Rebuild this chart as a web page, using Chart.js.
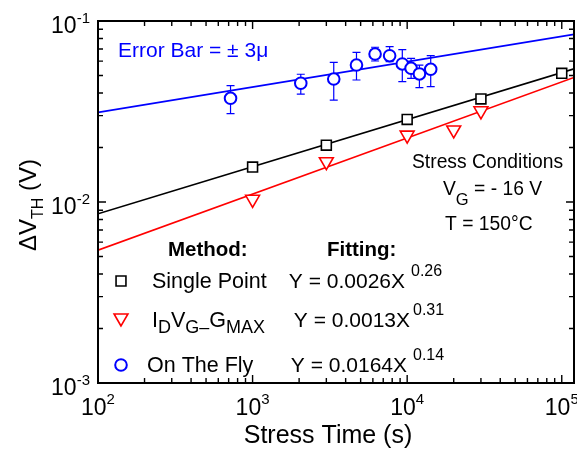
<!DOCTYPE html>
<html>
<head>
<meta charset="utf-8">
<script src="https://cdn.jsdelivr.net/npm/chart.js@4.4.0/dist/chart.umd.min.js"></script>
<style>
  html, body { margin: 0; padding: 0; background: #fff; }
  #wrap { width: 577px; height: 449px; position: relative; }
</style>
</head>
<body>
<div id="wrap"><canvas id="chart"></canvas></div>
<script>
// --- Data ---
// Single point method
const spTime = [1000, 3000, 10000, 30000, 100000];
const spShift = [0.0156, 0.0206, 0.0286, 0.0371, 0.0514];

// I_D V_G - G_MAX method
const gmTime = [1000, 3000, 10000, 20000, 30000];
const gmShift = [0.01035, 0.0167, 0.0234, 0.0250, 0.0319];

// On-the-fly method (mean with +/- 3 sigma limits)
const otfTime = [720, 2050, 3350, 4700, 6200, 7700, 9300, 10600, 12000, 14200];
const otfShift = [0.0374, 0.0453, 0.0478, 0.0571, 0.0657, 0.0643, 0.0579, 0.0548, 0.0510, 0.0541];
const otfHigh = [0.0439, 0.0508, 0.0591, 0.0671, 0.0716, 0.0721, 0.0694, 0.0622, 0.0571, 0.0643];
const otfLow = [0.0308, 0.0394, 0.0365, 0.0472, 0.0601, 0.0596, 0.0462, 0.0482, 0.0428, 0.0434];

// Power-law fits Y = A * X^n  (single point, IdVg-Gmax, on the fly)
const fitA = [0.0026, 0.0013, 0.0164];
const fitN = [0.26, 0.31, 0.14];
const fitLabels = ['0.0026', '0.0013', '0.0164'];
const fitExpLabels = ['0.26', '0.31', '0.14'];
const fitRange = [100, 120000];

// Axis decades
const xDecades = [100, 1000, 10000, 100000];
const yDecades = [0.001, 0.01, 0.1];

const FONT = '"Liberation Sans", Arial, Helvetica, sans-serif';
const BLUE = '#0000ff';
const RED = '#ff0000';
const BLACK = '#000000';

function xy(xs, ys) {
    return xs.map((x, i) => ({ x: x, y: ys[i] }));
}

function fitLine(k) {
    return fitRange.map(x => ({ x: x, y: fitA[k] * Math.pow(x, fitN[k]) }));
}

// draw a row of text pieces (sub/superscripts use dy)
function drawRuns(ctx, x, y, runs) {
    let cx = x;
    for (const r of runs) {
        ctx.font = (r.bold ? 'bold ' : '') + r.size + 'px ' + FONT;
        ctx.fillText(r.t, cx, y + (r.dy || 0));
        cx += ctx.measureText(r.t).width;
    }
    return cx;
}

function runsWidth(ctx, runs) {
    let w = 0;
    for (const r of runs) {
        ctx.font = (r.bold ? 'bold ' : '') + r.size + 'px ' + FONT;
        w += ctx.measureText(r.t).width;
    }
    return w;
}

// --- Error bars for the on-the-fly points ---
const errorBars = {
    id: 'errorBars',
    beforeDatasetsDraw(chart) {
        const ctx = chart.ctx;
        const xs = chart.scales.x, ys = chart.scales.y;
        ctx.save();
        ctx.strokeStyle = BLUE;
        ctx.lineWidth = 1.2;
        for (let i = 0; i < otfTime.length; i++) {
            const px = xs.getPixelForValue(otfTime[i]);
            const hi = ys.getPixelForValue(otfHigh[i]);
            const lo = ys.getPixelForValue(otfLow[i]);
            ctx.beginPath();
            ctx.moveTo(px, hi); ctx.lineTo(px, lo);
            ctx.moveTo(px - 4, hi); ctx.lineTo(px + 4, hi);
            ctx.moveTo(px - 4, lo); ctx.lineTo(px + 4, lo);
            ctx.stroke();
        }
        ctx.restore();
    }
};

// --- Frame, inward ticks, labels and annotations ---
const decorations = {
    id: 'decorations',
    afterDatasetsDraw(chart) {
        const ctx = chart.ctx;
        const a = chart.chartArea;
        const xs = chart.scales.x, ys = chart.scales.y;
        ctx.save();

        // frame
        ctx.strokeStyle = BLACK;
        ctx.lineWidth = 2;
        ctx.strokeRect(a.left, a.top, a.right - a.left, a.bottom - a.top);

        // ticks on all four sides, pointing inwards
        ctx.lineWidth = 1.4;
        ctx.beginPath();
        for (const d of xDecades) {
            for (let m = 1; m <= 9; m++) {
                const v = d * m;
                if (v < xs.min || v > xs.max) continue;
                const px = xs.getPixelForValue(v);
                const len = m === 1 ? 8 : 5;
                ctx.moveTo(px, a.bottom); ctx.lineTo(px, a.bottom - len);
                ctx.moveTo(px, a.top); ctx.lineTo(px, a.top + len);
            }
        }
        for (const d of yDecades) {
            for (let m = 1; m <= 9; m++) {
                const v = d * m;
                if (v < ys.min || v > ys.max * 1.0001) continue;
                const py = ys.getPixelForValue(v);
                const len = m === 1 ? 8 : 5;
                ctx.moveTo(a.left, py); ctx.lineTo(a.left + len, py);
                ctx.moveTo(a.right, py); ctx.lineTo(a.right - len, py);
            }
        }
        ctx.stroke();

        // tick labels
        ctx.fillStyle = BLACK;
        ctx.textBaseline = 'alphabetic';
        ctx.textAlign = 'left';
        for (const d of xDecades) {
            const runs = [{ t: '10', size: 23 }, { t: String(Math.round(Math.log10(d))), size: 15, dy: -11 }];
            const w = runsWidth(ctx, runs);
            drawRuns(ctx, xs.getPixelForValue(d) - w / 2, 415, runs);
        }
        for (const d of yDecades) {
            const runs = [{ t: '10', size: 23 }, { t: String(Math.round(Math.log10(d))), size: 15, dy: -10 }];
            const w = runsWidth(ctx, runs);
            drawRuns(ctx, 90 - w, ys.getPixelForValue(d) + 12, runs);
        }

        // axis titles
        ctx.font = '25px ' + FONT;
        ctx.textAlign = 'center';
        ctx.fillText('Stress Time (s)', 328, 443);
        ctx.textAlign = 'left';

        ctx.save();
        ctx.translate(36, 251);
        ctx.rotate(-Math.PI / 2);
        drawRuns(ctx, 0, 0, [
            { t: '\u0394V', size: 24 },
            { t: 'TH', size: 16, dy: 7 },
            { t: ' (V)', size: 24 }
        ]);
        ctx.restore();

        // error bar note
        ctx.fillStyle = BLUE;
        ctx.font = '21px ' + FONT;
        ctx.fillText('Error Bar = \u00b1 3\u03bc', 118, 57);

        // stress conditions
        ctx.fillStyle = BLACK;
        ctx.font = '19.3px ' + FONT;
        ctx.fillText('Stress Conditions', 412, 168);
        drawRuns(ctx, 443, 195, [
            { t: 'V', size: 19.3 },
            { t: 'G', size: 16.5, dy: 10 },
            { t: ' = - 16 V', size: 19.3 }
        ]);
        ctx.font = '19.3px ' + FONT;
        ctx.fillText('T = 150\u00b0C', 445, 230);

        // method / fitting table
        drawRuns(ctx, 168, 256, [{ t: 'Method:', size: 20.5, bold: true }]);
        drawRuns(ctx, 327, 256, [{ t: 'Fitting:', size: 20.5, bold: true }]);

        const markers = [
            { style: 'rect', color: BLACK, r: 7, y: 281, rot: 0 },
            { style: 'triangle', color: RED, r: 8, y: 318, rot: 180 },
            { style: 'circle', color: BLUE, r: 5.8, y: 365, rot: 0 }
        ];
        for (const m of markers) {
            ctx.strokeStyle = m.color;
            ctx.fillStyle = '#fff';
            ctx.lineWidth = m.style === 'circle' ? 2 : 1.6;
            Chart.helpers.drawPoint(ctx, { pointStyle: m.style, radius: m.r, rotation: m.rot, borderWidth: ctx.lineWidth }, 121, m.y);
        }

        ctx.fillStyle = BLACK;
        drawRuns(ctx, 152, 288, [{ t: 'Single Point', size: 21.5 }]);
        drawRuns(ctx, 152, 327, [
            { t: 'I', size: 21.5 },
            { t: 'D', size: 18, dy: 6 },
            { t: 'V', size: 21.5 },
            { t: 'G\u2013', size: 18, dy: 6 },
            { t: 'G', size: 21.5 },
            { t: 'MAX', size: 18, dy: 6 }
        ]);
        drawRuns(ctx, 147, 372, [{ t: 'On The Fly', size: 21.5 }]);

        const fitRows = [
            { end: 405, exp: 411, y: 288 },
            { end: 410, exp: 413, y: 327 },
            { end: 407, exp: 413, y: 372 }
        ];
        fitRows.forEach((r, k) => {
            const runs = [{ t: 'Y = ' + fitLabels[k] + 'X', size: 21 }];
            const w = runsWidth(ctx, runs);
            drawRuns(ctx, r.end - w, r.y, runs);
            drawRuns(ctx, r.exp, r.y - 12, [{ t: fitExpLabels[k], size: 16 }]);
        });

        ctx.restore();
    }
};

const pointDefaults = {
    showLine: false,
    pointBackgroundColor: '#fff',
    pointHoverRadius: 0
};

new Chart(document.getElementById('chart'), {
    type: 'scatter',
    data: {
        datasets: [
            Object.assign({}, pointDefaults, {
                label: 'Single Point',
                data: xy(spTime, spShift),
                pointStyle: 'rect',
                pointRadius: 7,
                borderColor: BLACK,
                pointBorderWidth: 1.6
            }),
            Object.assign({}, pointDefaults, {
                label: 'IdVg-Gmax',
                data: xy(gmTime, gmShift),
                pointStyle: 'triangle',
                pointRotation: 180,
                pointRadius: 8,
                borderColor: RED,
                pointBorderWidth: 1.6
            }),
            Object.assign({}, pointDefaults, {
                label: 'On The Fly',
                data: xy(otfTime, otfShift),
                pointStyle: 'circle',
                pointRadius: 5.8,
                borderColor: BLUE,
                pointBorderWidth: 2
            }),
            { label: 'fit sp', data: fitLine(0), showLine: true, borderColor: BLACK, borderWidth: 1.6, pointRadius: 0 },
            { label: 'fit gm', data: fitLine(1), showLine: true, borderColor: RED, borderWidth: 1.6, pointRadius: 0 },
            { label: 'fit otf', data: fitLine(2), showLine: true, borderColor: BLUE, borderWidth: 1.8, pointRadius: 0 }
        ]
    },
    options: {
        responsive: true,
        maintainAspectRatio: false,
        animation: false,
        events: [],
        layout: { autoPadding: false, padding: { left: 98, right: 3, top: 21, bottom: 66 } },
        plugins: {
            legend: { display: false },
            tooltip: { enabled: false }
        },
        scales: {
            x: { type: 'logarithmic', min: fitRange[0], max: fitRange[1], display: false },
            y: { type: 'logarithmic', min: 0.001, max: 0.1, display: false }
        }
    },
    plugins: [errorBars, decorations]
});
</script>
</body>
</html>
